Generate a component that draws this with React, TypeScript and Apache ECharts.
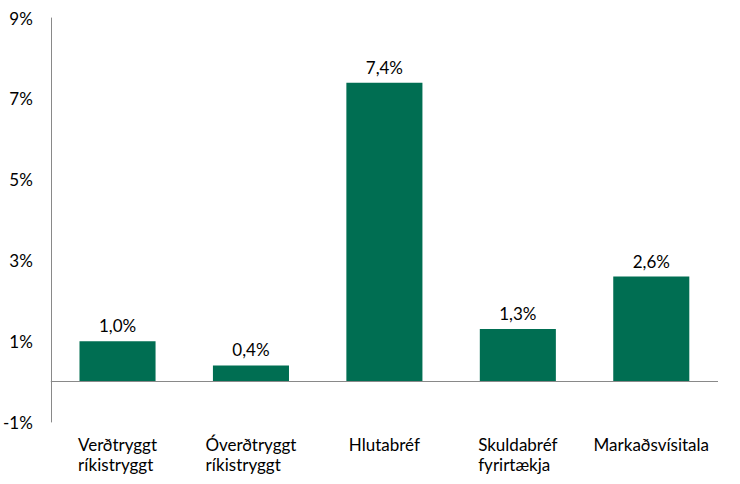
import React, { useEffect, useRef } from "react";
import * as echarts from "echarts";

const categories = [
  ["Verðtryggt", "ríkistryggt"],
  ["Óverðtryggt", "ríkistryggt"],
  ["Hlutabréf"],
  ["Skuldabréf", "fyrirtækja"],
  ["Markaðsvísitala"],
];
const values = [1.0, 0.4, 7.4, 1.3, 2.6];
const yMin = -1;
const yMax = 9;
const yInterval = 2;

const FONT = "Lato";
const FS = 17;

export default function App() {
  const ref = useRef<HTMLDivElement>(null);
  useEffect(() => {
    if (!ref.current) return;
    const chart = echarts.init(ref.current, undefined, { renderer: "svg" });
    chart.setOption({
      animation: false,
      backgroundColor: "#ffffff",
      grid: { left: 50, right: 22, top: 18, bottom: 62, containLabel: false },
      xAxis: {
        type: "category",
        data: categories.map((c) => c.join("\n")),
        axisLine: { show: false, onZero: false },
        axisTick: { show: false },
        splitLine: { show: false },
        axisLabel: {
          margin: 12,
          interval: 0,
          formatter: (v: string) =>
            v
              .split("\n")
              .map((s) => `{a|${s}}`)
              .join("\n"),
          rich: {
            a: {
              fontFamily: FONT,
              fontSize: FS,
              color: "#000000",
              lineHeight: 20,
              align: "left",
            },
          },
        },
      },
      yAxis: {
        type: "value",
        min: yMin,
        max: yMax,
        interval: yInterval,
        axisLine: { show: true, lineStyle: { color: "#898989", width: 1 } },
        axisTick: { show: false },
        splitLine: { show: false },
        axisLabel: {
          margin: 18,
          fontFamily: FONT,
          fontSize: FS,
          color: "#000000",
          formatter: (v: number) => `${v}%`,
        },
      },
      series: [
        {
          type: "bar",
          data: values,
          barWidth: "57%",
          itemStyle: { color: "#006E52" },
          label: {
            show: true,
            position: "top",
            distance: 7,
            fontFamily: FONT,
            fontSize: FS,
            color: "#000000",
            formatter: (p: any) => `${p.value.toFixed(1).replace(".", ",")}%`,
          },
          markLine: {
            silent: true,
            symbol: "none",
            label: { show: false },
            lineStyle: { color: "#898989", width: 1, type: "solid" },
            data: [{ yAxis: 0 }],
          },
        },
      ],
    });
    return () => chart.dispose();
  }, []);
  return (
    <div
      style={{
        position: "fixed",
        left: 0,
        top: 0,
        width: 740,
        height: 484,
        boxSizing: "border-box",
        borderTop: "2px solid #EAF0F8",
        borderLeft: "3px solid #EAF0F8",
        background: "#fff",
      }}
    >
      <div ref={ref} style={{ position: "absolute", left: -3, top: -2, width: 740, height: 484 }} />
    </div>
  );
}
